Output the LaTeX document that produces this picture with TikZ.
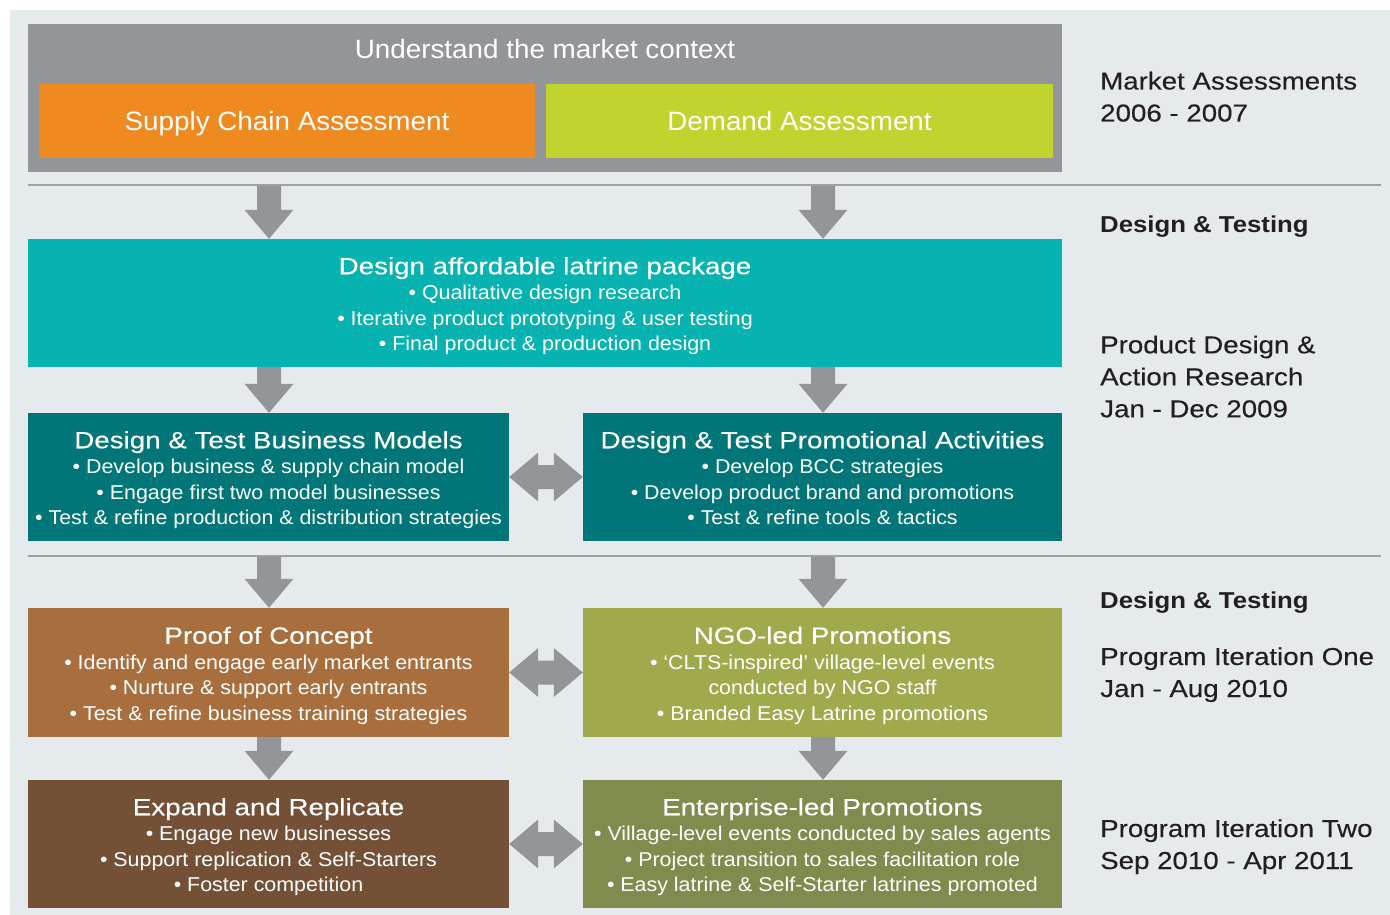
\documentclass[tikz,border=0pt]{standalone}
\usepackage{fontspec}
\setmainfont{Liberation Sans}[FakeStretch=1.07]
\newfontfamily\ftitlefam{Liberation Sans}[FakeStretch=1.18,FakeBold=0.35]
\newfontfamily\frightfam{Liberation Sans}[FakeStretch=1.13,FakeBold=0.25]
\newfontfamily\frightbfam{Liberation Sans Bold}[FakeStretch=1.12]
\newfontfamily\flabelfam{Liberation Sans}[FakeStretch=1.05]
\usetikzlibrary{calc}
\definecolor{bgC}{RGB}{229,234,237}
\definecolor{grayA}{RGB}{147,149,152}
\definecolor{orangeA}{RGB}{238,138,31}
\definecolor{limeA}{RGB}{193,211,47}
\definecolor{tealA}{RGB}{7,179,176}
\definecolor{dtealA}{RGB}{0,118,121}
\definecolor{pocC}{RGB}{169,110,62}
\definecolor{ngoC}{RGB}{160,170,76}
\definecolor{expC}{RGB}{116,80,54}
\definecolor{entC}{RGB}{128,139,78}
\definecolor{lineC}{RGB}{160,161,164}
\definecolor{txtC}{RGB}{35,31,32}
\newcommand\BoxTitle[1]{\rule{0pt}{25pt}{\ftitlefam\fontsize{23.5}{25.5}\selectfont #1}}
\newcommand\BoxEnd{\rule[-6pt]{0pt}{6pt}}
\newcommand\darrow[2]{%
  \fill[arrowgray] let \p1=(#1), \p2=(#2) in
    (\x1-12pt,\y1) -- (\x1+12pt,\y1) -- (\x1+12pt,\y2+29pt) -- (\x1+24.5pt,\y2+29pt)
    -- (\x1,\y2) -- (\x1-24.5pt,\y2+29pt) -- (\x1-12pt,\y2+29pt) -- cycle;}
\newcommand\harrow[2]{%
  \fill[arrowgray] let \p1=(#1), \p2=(#2) in
    (\x1,\y1) -- (\x1+29pt,\y1+24.5pt) -- (\x1+29pt,\y1+12pt) -- (\x2-29pt,\y1+12pt)
    -- (\x2-29pt,\y1+24.5pt) -- (\x2,\y1) -- (\x2-29pt,\y1-24.5pt) -- (\x2-29pt,\y1-12pt)
    -- (\x1+29pt,\y1-12pt) -- (\x1+29pt,\y1-24.5pt) -- cycle;}
\begin{document}
\begin{tikzpicture}[x=1pt,y=-1pt,
  arrowgray/.style={fill=grayA},
  panel/.style={inner sep=0pt, draw=none},
  box/.style={inner sep=0pt, align=center, text=white, font=\fontsize{20}{25.5}\selectfont},
  lbl/.style={inner sep=0pt, text=white, text height=19pt, text depth=0pt, font=\flabelfam\fontsize{26.5}{30}\selectfont},
  sep/.style={draw=lineC, line width=2pt},
  rt/.style={anchor=base west, inner sep=0pt, text=txtC, font=\frightfam\fontsize{24.5}{32}\selectfont},
  rtb/.style={rt, font=\frightbfam\fontsize{23}{32}\selectfont}]
\useasboundingbox (0,0) rectangle (1390,915);
\fill[bgC] (10,10) rectangle (1390,915);

% market context
\node[panel, fill=grayA, minimum width=1034pt, minimum height=148pt] (ctx) at (545,98) {};
\node[anchor=base, inner sep=0pt, text=white, font=\flabelfam\fontsize{26.5}{30}\selectfont] (ctxt) at (545,59) {Understand the market context};
\node[lbl, fill=orangeA, minimum width=496pt, minimum height=74pt] (supply) at (287,121) {Supply Chain Assessment};
\node[lbl, fill=limeA, minimum width=507pt, minimum height=74pt] (demand) at (799.5,121) {Demand Assessment};

% separators
\draw[sep] (28,185) -- (1381,185);
\draw[sep] (28,556) -- (1381,556);
\coordinate (l1L) at (269,186);
\coordinate (l1R) at (823,186);
\coordinate (l2L) at (269,557);
\coordinate (l2R) at (823,557);

% boxes
\node[box, fill=tealA, minimum width=1034pt, minimum height=128pt] (pkg) at (545,303)
  {\BoxTitle{Design affordable latrine package}\\ • Qualitative design research\\ • Iterative product prototyping \& user testing\\ • Final product \& production design\BoxEnd};
\node[box, fill=dtealA, minimum width=481pt, minimum height=128pt] (bmL) at (268.5,477)
  {\BoxTitle{Design \& Test Business Models}\\ • Develop business \& supply chain model\\ • Engage first two model businesses\\ • Test \& refine production \& distribution strategies\BoxEnd};
\node[box, fill=dtealA, minimum width=479pt, minimum height=128pt] (bmR) at (822.5,477)
  {\BoxTitle{Design \& Test Promotional Activities}\\ • Develop BCC strategies\\ • Develop product brand and promotions\\ • Test \& refine tools \& tactics\BoxEnd};
\node[box, fill=pocC, minimum width=481pt, minimum height=129pt] (pocL) at (268.5,672.5)
  {\BoxTitle{Proof of Concept}\\ • Identify and engage early market entrants\\ • Nurture \& support early entrants\\ • Test \& refine business training strategies\BoxEnd};
\node[box, fill=ngoC, minimum width=479pt, minimum height=129pt] (pocR) at (822.5,672.5)
  {\BoxTitle{NGO-led Promotions}\\ • ‘CLTS-inspired’ village-level events\\ conducted by NGO staff\\ • Branded Easy Latrine promotions\BoxEnd};
\node[box, fill=expC, minimum width=481pt, minimum height=128pt] (expL) at (268.5,844)
  {\BoxTitle{Expand and Replicate}\\ • Engage new businesses\\ • Support replication \& Self-Starters\\ • Foster competition\BoxEnd};
\node[box, fill=entC, minimum width=479pt, minimum height=128pt] (expR) at (822.5,844)
  {\BoxTitle{Enterprise-led Promotions}\\ • Village-level events conducted by sales agents\\ • Project transition to sales facilitation role\\ • Easy latrine \& Self-Starter latrines promoted\BoxEnd};

% down arrows
\darrow{l1L}{l1L |- pkg.north}
\darrow{l1R}{l1R |- pkg.north}
\darrow{l1L |- pkg.south}{bmL.north}
\darrow{l1R |- pkg.south}{bmR.north}
\darrow{l2L}{pocL.north}
\darrow{l2R}{pocR.north}
\darrow{l1L |- pocL.south}{expL.north}
\darrow{l1R |- pocR.south}{expR.north}

% double arrows
\harrow{bmL.east}{bmR.west}
\harrow{pocL.east}{pocR.west}
\harrow{expL.east}{expR.west}

% right-hand labels
\node[rt] (r1) at (1100,89.5) {Market Assessments};
\node[rt] (r2) at (1100,121.5) {2006 - 2007};
\node[rtb] (r3) at (1100,232) {Design \& Testing};
\node[rt] (r4) at (1100,353.3) {Product Design \&};
\node[rt] (r5) at (1100,385.3) {Action Research};
\node[rt] (r6) at (1100,417.3) {Jan - Dec 2009};
\node[rtb] (r7) at (1100,608.3) {Design \& Testing};
\node[rt] (r8) at (1100,665) {Program Iteration One};
\node[rt] (r9) at (1100,697) {Jan - Aug 2010};
\node[rt] (r10) at (1100,837) {Program Iteration Two};
\node[rt] (r11) at (1100,869) {Sep 2010 - Apr 2011};
\end{tikzpicture}
\end{document}
